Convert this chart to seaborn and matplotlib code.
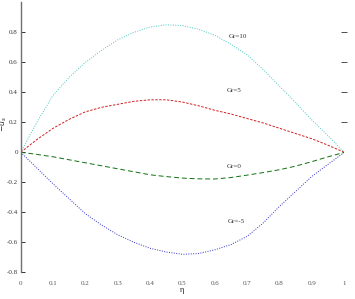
import numpy as np
import pandas as pd
import matplotlib
matplotlib.use("Agg")
import matplotlib.pyplot as plt
import seaborn as sns

eta = [0.0, 0.05, 0.1, 0.15, 0.2, 0.25, 0.3, 0.35, 0.4, 0.45, 0.5,
       0.55, 0.6, 0.65, 0.7, 0.75, 0.8, 0.85, 0.9, 0.95, 1.0]
gr10 = [0.0, 0.20, 0.38, 0.50, 0.60, 0.68, 0.75, 0.80, 0.835, 0.85, 0.845,
        0.82, 0.78, 0.72, 0.65, 0.55, 0.44, 0.33, 0.215, 0.11, 0.0]
gr5 = [0.0, 0.085, 0.16, 0.22, 0.27, 0.30, 0.32, 0.34, 0.35, 0.35, 0.335,
       0.31, 0.28, 0.255, 0.225, 0.195, 0.16, 0.125, 0.09, 0.047, 0.0]
gr0 = [0.0, -0.014, -0.03, -0.05, -0.07, -0.09, -0.11, -0.13, -0.15, -0.162, -0.172,
       -0.177, -0.178, -0.168, -0.152, -0.135, -0.116, -0.092, -0.062, -0.03, 0.0]
grm5 = [0.0, -0.105, -0.21, -0.31, -0.41, -0.485, -0.55, -0.60, -0.64, -0.665, -0.68,
        -0.675, -0.65, -0.615, -0.56, -0.47, -0.36, -0.26, -0.16, -0.08, 0.0]
series_names = ["Gr=10", "Gr=5", "Gr=0", "Gr=-5"]
xticks = [0, 0.1, 0.2, 0.3, 0.4, 0.5, 0.6, 0.7, 0.8, 0.9, 1]
xticklabels = ["0", "0.1", "0.2", "0.3", "0.4", "0.5", "0.6", "0.7", "0.8", "0.9", "1"]
yticks = [-0.8, -0.6, -0.4, -0.2, 0, 0.2, 0.4, 0.6, 0.8]
yticklabels = ["-0.8", "-0.6", "-0.4", "-0.2", "0", "0.2", "0.4", "0.6", "0.8"]
label_pos = {"Gr=10": (0.672, 0.77), "Gr=5": (0.66, 0.41), "Gr=0": (0.66, -0.095), "Gr=-5": (0.665, -0.46)}

rows = []
for name, vals in zip(series_names, [gr10, gr5, gr0, grm5]):
    for x, y in zip(eta, vals):
        rows.append({"eta": x, "u": y, "Gr": name})
df = pd.DataFrame(rows)

sns.set_style("white")
plt.rcParams["font.family"] = ["Liberation Serif", "DejaVu Serif"]

fig = plt.figure(figsize=(3.55, 2.99), dpi=100)
ax = fig.add_axes([20.7 / 355, 26.7 / 299, (344.3 - 20.7) / 355, (296.7 - 26.7) / 299])

palette = {"Gr=10": "#4cc8c0", "Gr=5": "#d02020", "Gr=0": "#107010", "Gr=-5": "#3030c8"}
dashes = {"Gr=10": (1, 1.5), "Gr=5": (2.5, 1.5), "Gr=0": (5, 3), "Gr=-5": (1, 1.5)}
sns.lineplot(data=df, x="eta", y="u", hue="Gr", style="Gr", palette=palette,
             dashes=dashes, ax=ax, legend=False, linewidth=0.7, sort=False)

ax.set_xlim(0, 1)
ax.set_ylim(-0.8, 1.0)
for s in ["top", "right", "bottom"]:
    ax.spines[s].set_visible(False)
ax.spines["left"].set_color("#707070")
ax.spines["left"].set_linewidth(1.0)

ax.set_xticks(xticks)
ax.set_xticklabels(xticklabels, fontsize=5, color="#555555")
ax.set_yticks(yticks)
ax.set_yticklabels(yticklabels, fontsize=5, color="#333333")
ax.tick_params(axis="x", which="major", length=0, pad=6)
ax.tick_params(axis="y", which="major", direction="in", length=3, width=0.7, pad=2, colors="#333333")
ax.set_xticks([0.1, 0.4, 0.5, 0.8, 0.9], minor=True)
ax.tick_params(axis="x", which="minor", direction="in", length=4, width=0.6,
               top=True, bottom=True, color="#777777")

ax2 = ax.twinx()
ax2.set_ylim(-0.8, 1.0)
ax2.set_yticks([0.2, 0.4, 0.6, 0.8])
ax2.set_yticklabels([])
ax2.tick_params(axis="y", direction="inout", length=4, width=0.6, color="#333333")
for s in ["top", "right", "bottom", "left"]:
    ax2.spines[s].set_visible(False)

ax.set_xlabel("η", fontsize=6, labelpad=0)
ax.set_ylabel("$-u_s$", fontsize=5.5, labelpad=0)
ax.yaxis.set_label_coords(-0.035, 0.55)

for name in series_names:
    x, y = label_pos[name]
    ax.text(x, y, name, fontsize=5, ha="center", va="center", color="#333333")

fig.savefig("out.png", dpi=100)
